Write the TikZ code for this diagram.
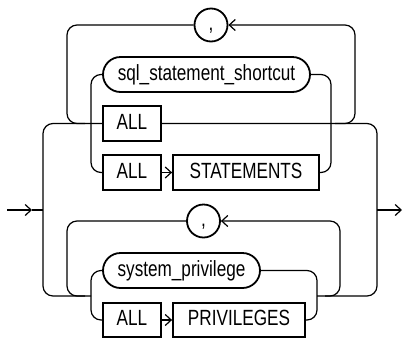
\documentclass[tikz,border=0pt]{standalone}
\usepackage{fontspec}
\setmainfont{Liberation Sans}[FakeStretch=0.78]
\usetikzlibrary{arrows.meta}
\begin{document}
\begin{tikzpicture}[x=1pt,y=-1pt,
  conn/.style={line width=1.2pt, rounded corners=10pt},
  arr/.style={-{Straight Barb[length=6pt,width=11pt]}},
  kw/.style={draw, line width=1.8pt, minimum height=35pt, inner sep=0pt,
    text height=15.5pt, text depth=4pt, font=\fontsize{22}{25}\selectfont},
  term/.style={kw, rounded corners=17.5pt},
  sepc/.style={draw, circle, line width=1.8pt, minimum size=33pt, inner sep=0pt,
    text height=15.5pt, text depth=4pt, font=\fontsize{22}{25}\selectfont}]
\useasboundingbox (0,0) rectangle (404,338);
% nodes
\node[sepc] (c1) at (211,25) {,};
\node[term, minimum width=207pt] (sss) at (206.5,74.5) {sql\_statement\_shortcut};
\node[kw, minimum width=58pt] (all1) at (132,123.5) {ALL};
\node[kw, minimum width=58pt] (all2) at (132,172.5) {ALL};
\node[kw, minimum width=146pt] (stm) at (246,172.5) {STATEMENTS};
\node[sepc] (c2) at (203.5,221) {,};
\node[term, minimum width=157pt] (sp) at (181.5,270.5) {system\_privilege};
\node[kw, minimum width=58pt, minimum height=34pt] (all3) at (132,320) {ALL};
\node[kw, minimum width=132pt, minimum height=34pt] (prv) at (239,320) {PRIVILEGES};
% coordinates
\coordinate (in) at (7,210);
\coordinate (tipin) at (32,210);
\coordinate (jin) at (43,210);
\coordinate (jout) at (377,210);
\coordinate (out) at (402,210);
% entry / exit
\draw[conn,arr] (in) -- (tipin);
\draw[conn] (tipin) -- (jin);
\draw[conn,arr] (jout) -- (out);
% outer brackets
\draw[conn] (all1.west) -- (43,123.5) -- (43,296) -- (91,296);
\draw[conn] (all1.east) -- (377,123.5) -- (377,296) -- (317,296);
% top loop
\draw[conn] (c1.west) -- (67,25) -- (67,123.5) -- (85,123.5);
\draw[conn,arr] (335,123.5) -- (355,123.5) -- (355,25) -- (c1.east);
% top choice
\draw[conn] (sss.west) -- (91,74.5) -- (91,172.5) -- (all2.west);
\draw[conn] (sss.east) -- (331,74.5) -- (331,172.5) -- (stm.east);
\draw[conn,arr] (all2.east) -- (stm.west);
% bottom loop
\draw[conn] (c2.west) -- (67,221) -- (67,296) -- (85,296);
\draw[conn,arr] (325,296) -- (340,296) -- (340,221) -- (c2.east);
% bottom choice
\draw[conn] (sp.west) -- (91,270.5) -- (91,320) -- (all3.west);
\draw[conn] (sp.east) -- (317,270.5) -- (317,320) -- (prv.east);
\draw[conn,arr] (all3.east) -- (prv.west);
\end{tikzpicture}
\end{document}
